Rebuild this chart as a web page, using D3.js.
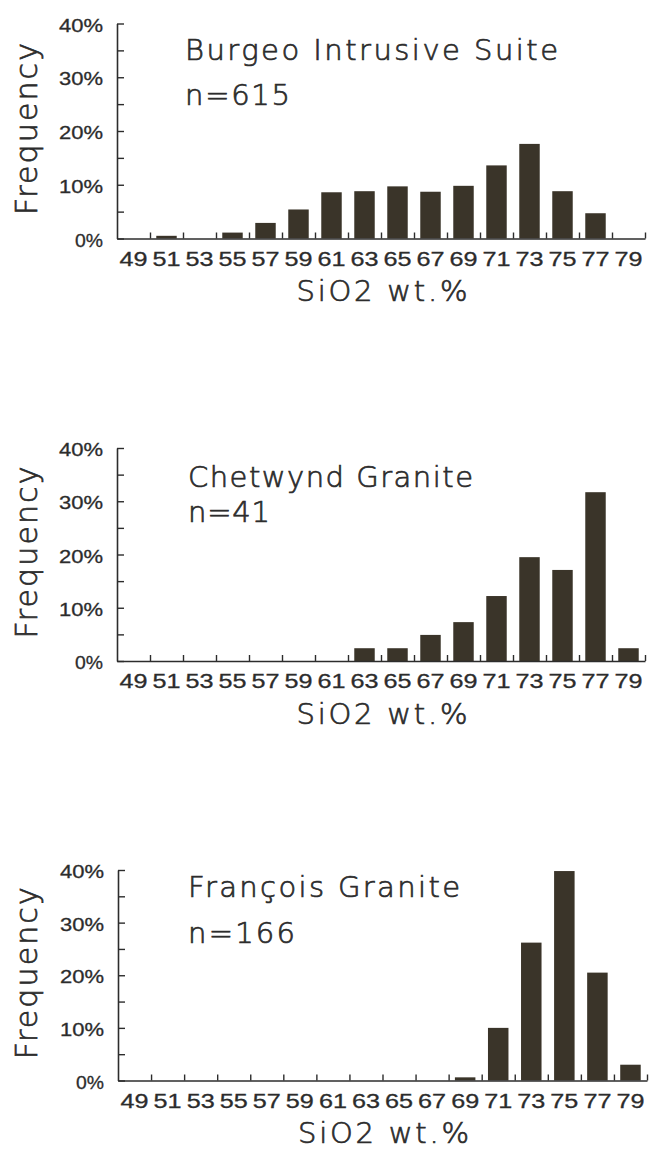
<!DOCTYPE html>
<html>
<head>
<meta charset="utf-8">
<script src="https://cdn.jsdelivr.net/npm/d3@7"></script>
<style>
  html, body { margin: 0; padding: 0; background: #ffffff; }
  svg { display: block; }
</style>
</head>
<body>
<svg id="chart" width="649" height="1150"></svg>
<script>
// SiO2 bin centres (wt.%), each bin 2 wt.% wide
const categories = [49, 51, 53, 55, 57, 59, 61, 63, 65, 67, 69, 71, 73, 75, 77, 79];

// Frequency (%) of samples per SiO2 bin
const burgeoValues    = [0, 0.5, 0, 1.1, 2.9, 5.4, 8.6, 8.8, 9.7, 8.7, 9.8, 13.6, 17.6, 8.8, 4.7, 0];
const chetwyndValues  = [0, 0, 0, 0, 0, 0, 0, 2.4, 2.4, 4.9, 7.3, 12.2, 19.5, 17.1, 31.7, 2.4];
const francoisValues  = [0, 0, 0, 0, 0, 0, 0, 0, 0, 0, 0.6, 10.0, 26.2, 39.8, 20.5, 3.0];

const suiteNames  = ["Burgeo Intrusive Suite", "Chetwynd Granite", "François Granite"];
const sampleCounts = ["n=615", "n=41", "n=166"];

const yTickValues = [0, 5, 10, 15, 20, 25, 30, 35, 40];
const yLabelValues = [0, 10, 20, 30, 40];
const binEdges = [50, 52, 54, 56, 58, 60, 62, 64, 66, 68, 70, 72, 74, 76, 78, 80];

const xTitle = "SiO2 wt.%";
const yTitle = "Frequency";

// Panel frames in page pixels
const panels = [
  { values: burgeoValues,   left: 117, right: 645, top: 23.5, bottom: 238.5,
    titleX: 185, titleY: 60, titleLen: 373, nY: 105, nLen: 105 },
  { values: chetwyndValues, left: 117, right: 645, top: 448, bottom: 661,
    titleX: 188, titleY: 487, titleLen: 285, nY: 522, nLen: 82 },
  { values: francoisValues, left: 118, right: 647, top: 870, bottom: 1080.5,
    titleX: 188, titleY: 897, titleLen: 272, nY: 943, nLen: 107 }
];

const ink = "#2c2c2c";
const barFill = "#3a3429";
const plotFont = "'DejaVu Sans', 'Noto Sans', sans-serif";
const tickFont = "'Liberation Sans', Arial, sans-serif";

const svg = d3.select("#chart");

// thin stroked lettering
function plotText(sel, size, len) {
  return sel
    .attr("font-family", plotFont)
    .attr("font-size", size)
    .attr("font-weight", 200)
    .attr("fill", ink)
    .attr("stroke", ink)
    .attr("stroke-width", 0.7)
    .attr("textLength", len)
    .attr("lengthAdjust", "spacing");
}

panels.forEach((p, i) => {
  const g = svg.append("g");

  const x = d3.scaleBand()
    .domain(categories)
    .range([p.left, p.right])
    .paddingInner(0.38)
    .paddingOuter(0.19);

  const xEdge = d3.scaleLinear().domain([48, 80]).range([p.left, p.right]);
  const y = d3.scaleLinear().domain([0, 40]).range([p.bottom, p.top]);

  // bars
  g.append("g").selectAll("rect")
    .data(categories.map((c, k) => ({ c, v: p.values[k] })).filter(d => d.v > 0))
    .join("rect")
    .attr("x", d => x(d.c))
    .attr("width", x.bandwidth())
    .attr("y", d => y(d.v))
    .attr("height", d => y(0) - y(d.v))
    .attr("fill", barFill);

  // bin-edge ticks along the baseline
  const xAxis = g.append("g")
    .attr("transform", `translate(0,${p.bottom})`)
    .call(d3.axisBottom(xEdge).tickValues(binEdges).tickSize(-6).tickSizeOuter(0).tickFormat(""));
  xAxis.select(".domain").attr("stroke", ink).attr("stroke-width", 1.6);
  xAxis.selectAll(".tick line").attr("stroke", ink).attr("stroke-width", 1.4);

  // bin-centre labels
  const xLab = g.append("g")
    .attr("transform", `translate(0,${p.bottom})`)
    .call(d3.axisBottom(x).tickSize(0).tickPadding(13));
  xLab.select(".domain").remove();
  xLab.selectAll("text")
    .attr("font-family", tickFont)
    .attr("font-size", 20)
    .attr("fill", ink)
    .attr("stroke", ink)
    .attr("stroke-width", 0.3)
    .attr("textLength", 28)
    .attr("lengthAdjust", "spacingAndGlyphs");

  // y axis
  const yAxis = g.append("g")
    .attr("transform", `translate(${p.left},0)`)
    .call(d3.axisLeft(y).tickValues(yTickValues).tickSize(-7).tickSizeOuter(0).tickPadding(14)
      .tickFormat(d => yLabelValues.includes(d) ? d + "%" : ""));
  yAxis.select(".domain").attr("stroke", ink).attr("stroke-width", 1.6);
  yAxis.selectAll(".tick line").attr("stroke", ink).attr("stroke-width", 1.4);
  yAxis.selectAll("text")
    .attr("font-family", tickFont)
    .attr("font-size", 19)
    .attr("dy", "0.4em")
    .attr("fill", ink)
    .attr("stroke", ink)
    .attr("stroke-width", 0.3)
    .each(function (d) {
      if (yLabelValues.includes(d)) {
        d3.select(this)
          .attr("textLength", d === 0 ? 28 : 44)
          .attr("lengthAdjust", "spacingAndGlyphs");
      }
    });

  // suite name and sample count
  plotText(g.append("text").attr("x", p.titleX).attr("y", p.titleY), 29, p.titleLen)
    .text(suiteNames[i]);
  plotText(g.append("text").attr("x", p.titleX).attr("y", p.nY), 29, p.nLen)
    .text(sampleCounts[i]);

  // axis titles
  plotText(g.append("text")
    .attr("x", (p.left + p.right) / 2 + 1).attr("y", p.bottom + 62.5)
    .attr("text-anchor", "middle"), 29, 171)
    .text(xTitle);
  plotText(g.append("text")
    .attr("transform", `translate(37,${(p.top + p.bottom) / 2 - 2}) rotate(-90)`)
    .attr("text-anchor", "middle"), 30, 172)
    .text(yTitle);
});
</script>
</body>
</html>
